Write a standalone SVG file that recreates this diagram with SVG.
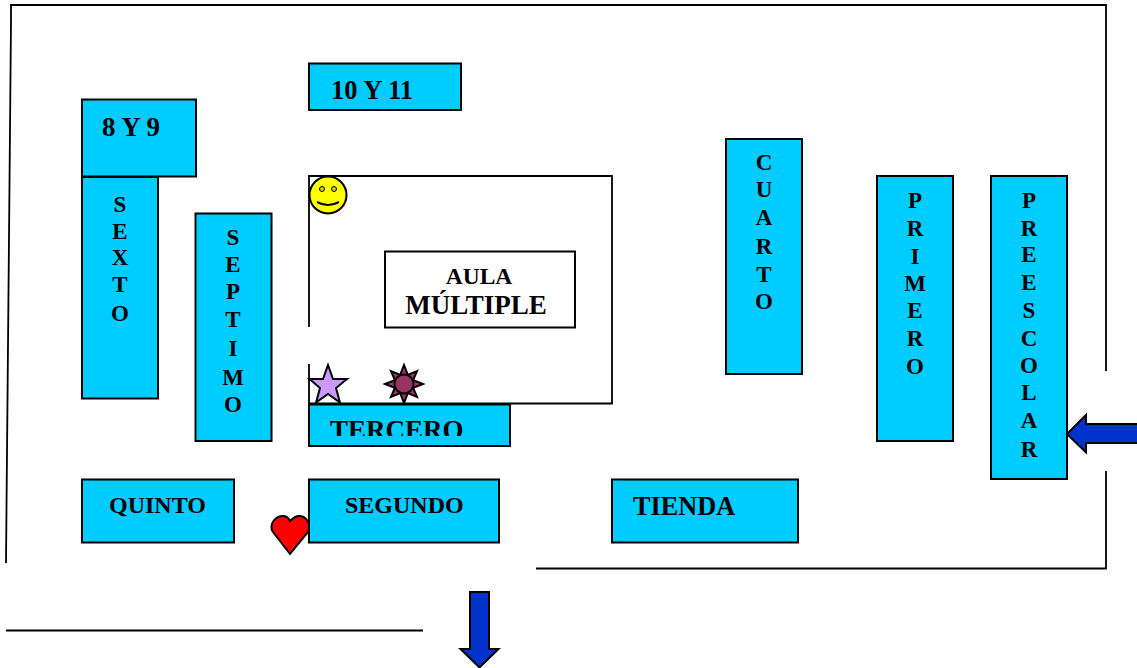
<svg xmlns="http://www.w3.org/2000/svg" width="1137" height="668" viewBox="0 0 1137 668">
<style>
.room{fill:#00ccff;stroke:#000;stroke-width:2}
.plain{fill:#fff;stroke:#000;stroke-width:2}
.wall{fill:none;stroke:#000;stroke-width:1.800}
.arrow{fill:#0033cc;stroke:#000;stroke-width:2}
text{font-family:"Liberation Serif","Times New Roman",serif;font-weight:bold;fill:#000;font-size:24px}
.v{font-size:23px;text-anchor:middle}
</style>
<defs><clipPath id="tc"><rect x="309" y="405" width="201" height="31"/></clipPath></defs>
<g id="connectors">
<path class="wall" d="M6 563L11 21V5H1106V371"/>
<path class="wall" d="M1106 471V568.500H536"/>
<path class="wall" d="M6 630.500H423"/>
</g>
<g id="aula-hall"><path class="wall" d="M309 327V176H612V403.500H309V364"/></g>
<g id="aula-multiple"><rect class="plain" x="385" y="251.500" width="190" height="76"/>
<text x="479" y="284" text-anchor="middle" style="font-size:23.500px">AULA</text>
<text x="476" y="314" text-anchor="middle" style="font-size:27px">MÚLTIPLE</text></g>
<g id="r10y11"><rect class="room" x="309" y="63.500" width="152" height="46.500"/><text x="331" y="99" style="font-size:26.500px">10 Y 11</text></g>
<g id="r8y9"><rect class="room" x="82" y="99.500" width="114" height="77"/><text x="102" y="136" style="font-size:27px">8 Y 9</text></g>
<g id="sexto"><rect class="room" x="82" y="177" width="76" height="221.500"/>
<text class="v" x="120" y="212">S</text><text class="v" x="120" y="239">E</text><text class="v" x="120" y="265">X</text><text class="v" x="120" y="292">T</text><text class="v" x="120" y="321">O</text></g>
<g id="septimo"><rect class="room" x="195.500" y="213.500" width="76" height="227.500"/>
<text class="v" x="233" y="245">S</text><text class="v" x="233" y="272">E</text><text class="v" x="233" y="299">P</text><text class="v" x="233" y="327">T</text><text class="v" x="233" y="356">I</text><text class="v" x="233" y="385">M</text><text class="v" x="233" y="412">O</text></g>
<g id="cuarto"><rect class="room" x="726" y="139" width="76" height="235"/>
<text class="v" x="764" y="170">C</text><text class="v" x="764" y="197">U</text><text class="v" x="764" y="225">A</text><text class="v" x="764" y="254">R</text><text class="v" x="764" y="282">T</text><text class="v" x="764" y="309">O</text></g>
<g id="primero"><rect class="room" x="877" y="176" width="76" height="265"/>
<text class="v" x="915" y="208">P</text><text class="v" x="915" y="236">R</text><text class="v" x="915" y="264">I</text><text class="v" x="915" y="291">M</text><text class="v" x="915" y="318">E</text><text class="v" x="915" y="346">R</text><text class="v" x="915" y="374">O</text></g>
<g id="preescolar"><rect class="room" x="991" y="176" width="76" height="303"/>
<text class="v" x="1029" y="208">P</text><text class="v" x="1029" y="236">R</text><text class="v" x="1029" y="262">E</text><text class="v" x="1029" y="290">E</text><text class="v" x="1029" y="318">S</text><text class="v" x="1029" y="346">C</text><text class="v" x="1029" y="373">O</text><text class="v" x="1029" y="400">L</text><text class="v" x="1029" y="428">A</text><text class="v" x="1029" y="457">R</text></g>
<g id="tercero"><rect class="room" x="309" y="404.500" width="201" height="41.500"/>
<text x="330" y="439" clip-path="url(#tc)" style="font-size:27px">TERCERO</text></g>
<g id="quinto"><rect class="room" x="82" y="479.500" width="152" height="63"/><text x="109" y="513">QUINTO</text></g>
<g id="heart"><path d="M290 554L273 532C268 524 276 516 283 516C287 516 289 519 290 521C292 519 295 516 299 516C306 516 312 524 308 532Z" fill="#ff0000" stroke="#000" stroke-width="2"/></g>
<g id="segundo"><rect class="room" x="309" y="479.500" width="190" height="63"/><text x="345" y="513">SEGUNDO</text></g>
<g id="tienda"><rect class="room" x="612" y="479.500" width="186" height="63"/><text x="633" y="515" style="font-size:26.300px">TIENDA</text></g>
<g id="smiley"><circle cx="328" cy="195" r="18.500" fill="#ffff00" stroke="#000" stroke-width="2"/>
<circle cx="322" cy="189" r="2.500" fill="#cccc00" stroke="#000" stroke-width="1"/><circle cx="334" cy="189" r="2.500" fill="#cccc00" stroke="#000" stroke-width="1"/>
<path d="M317 202Q328 208 339 202" fill="none" stroke="#000" stroke-width="2"/></g>
<g id="star"><path d="M328 365L333 379H347L336 388L340 402.500L328 394L316 402.500L320 388L309.500 379H323Z" fill="#cc99ff" stroke="#000" stroke-width="2"/></g>
<g id="sun"><path d="M404 365L407.800 374.800L417 371L413.200 380.200L423 384L413.200 387.800L417 397L407.800 393.200L404 403L400.200 393.200L391 397L394.800 387.800L385 384L394.800 380.200L391 371L400.200 374.800Z" fill="#993366" stroke="#000" stroke-width="2"/><circle cx="404" cy="384" r="9.500" fill="#993366" stroke="#000" stroke-width="2"/></g>
<g id="arrow-down"><path class="arrow" d="M470 592H489V649H498.500L479.500 667.500L460.500 649H470Z"/></g>
<g id="arrow-left"><path class="arrow" d="M1137 424H1086V415L1067 434L1086 452.500V443H1137"/></g>
</svg>
